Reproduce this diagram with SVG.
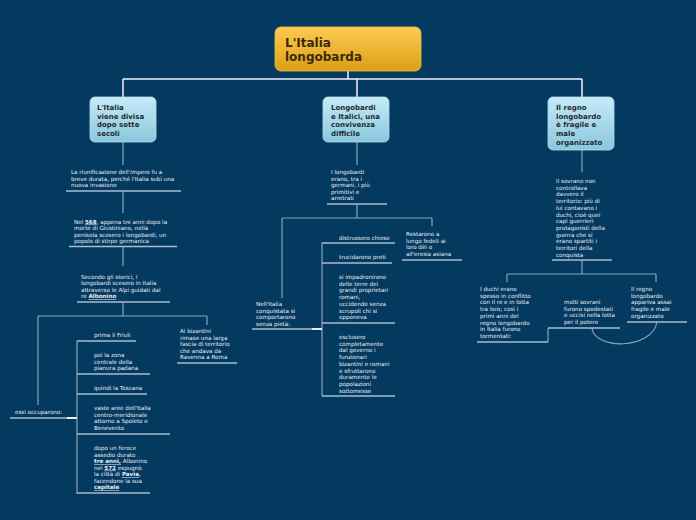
<svg xmlns="http://www.w3.org/2000/svg" width="696" height="520" viewBox="0 0 696 520">
<defs>
<linearGradient id="gOr" x1="0" y1="0" x2="0" y2="1"><stop offset="0" stop-color="#fdca52"/><stop offset="1" stop-color="#dc9f14"/></linearGradient>
<linearGradient id="gBl" x1="0" y1="0" x2="0" y2="1"><stop offset="0" stop-color="#c6eaf8"/><stop offset="1" stop-color="#8ac7dd"/></linearGradient>
<style>
.t{font-family:"DejaVu Sans",Verdana,sans-serif;font-size:5.6px;fill:#e9eef3}
.h{font-family:"DejaVu Sans",Verdana,sans-serif;font-size:7px;font-weight:bold;fill:#1e2a30}
.r{font-family:"DejaVu Sans",Verdana,sans-serif;font-size:12px;font-weight:bold;fill:#3a2a0c}
.u{font-weight:bold;text-decoration:underline}
.m{stroke:#f2f5f8;stroke-width:1.5;fill:none}
.c{stroke:#8aa3b9;stroke-width:1.2;fill:none}
.ul{stroke:#a9bccc;stroke-width:1.3;fill:none}
.j{stroke:#e6edf3;stroke-width:2;fill:none}
</style>
</defs>
<rect width="696" height="520" fill="#043a60"/>
<g id="connectors">
<path class="m" d="M348,71V79M123,79H582M123,79V97M357,79V97M582,79V97"/>
<path class="c" d="M123,142V165M123,191V213M123,246V266M123,302V316M38,316H207M38,316V405M207,316V325M77,341V494"/>
<path class="c" d="M357,142V165M357,204V218M282,218H432M282,218V298M432,218V226M322,243V396"/>
<path class="c" d="M582,150V172M582,260V274M507,274H656M507,274V282M656,274V282M548,328V342"/>
<path class="c" d="M592,328C594,350 652,350 657,322"/>
<path class="j" d="M67,418H77M312,329H322"/>
</g>
<g id="root">
<rect x="275" y="27" width="146" height="44" rx="6" fill="url(#gOr)" stroke="#f5c24a" stroke-width="0.8"/>
<text class="r" x="285" y="47">L'Italia</text>
<text class="r" x="285" y="61">longobarda</text>
</g>
<g id="n1">
<rect x="90" y="97" width="66" height="45" rx="5" fill="url(#gBl)" stroke="#b5e0f0" stroke-width="0.8"/>
<text class="h" x="97" y="110">L'Italia</text>
<text class="h" x="97" y="118.7">viene divisa</text>
<text class="h" x="97" y="127.4">dopo sette</text>
<text class="h" x="97" y="136.1">secoli</text>
</g>
<g id="n2">
<rect x="323" y="97" width="66" height="45" rx="5" fill="url(#gBl)" stroke="#b5e0f0" stroke-width="0.8"/>
<text class="h" x="331" y="110">Longobardi</text>
<text class="h" x="331" y="118.7">e Italici, una</text>
<text class="h" x="331" y="127.4">convivenza</text>
<text class="h" x="331" y="136.1">difficile</text>
</g>
<g id="n3">
<rect x="548" y="97" width="66" height="53" rx="5" fill="url(#gBl)" stroke="#b5e0f0" stroke-width="0.8"/>
<text class="h" x="556" y="110">Il regno</text>
<text class="h" x="556" y="118.7">longobardo</text>
<text class="h" x="556" y="127.4">è fragile e</text>
<text class="h" x="556" y="136.1">male</text>
<text class="h" x="556" y="144.8">organizzato</text>
</g>
<g id="t1">
<text class="t" x="71"><tspan x="71" y="174">La riunificazione dell'impero fu a</tspan><tspan x="71" y="180.7">breve durata, perché l'Italia subì una</tspan><tspan x="71" y="187.4">nuova invasione</tspan></text>
<path class="ul" d="M66,191H181"/>
</g>
<g id="t2">
<text class="t"><tspan x="74" y="223.5">Nel <tspan class="u">568</tspan>, appena tre anni dopo la</tspan><tspan x="74" y="230">morte di Giustiniano, nella</tspan><tspan x="74" y="236.5">penisola scesero i longobardi, un</tspan><tspan x="74" y="243">popolo di stirpe germanica</tspan></text>
<path class="ul" d="M69,246.5H177"/>
</g>
<g id="t3">
<text class="t"><tspan x="81" y="278.5">Secondo gli storici, i</tspan><tspan x="81" y="285">longobardi scesero in Italia</tspan><tspan x="81" y="291.5">attraverso le Alpi guidati dal</tspan><tspan x="81" y="298">re <tspan class="u">Albonino</tspan></tspan></text>
<path class="ul" d="M77,302H170"/>
</g>
<g id="t4">
<text class="t" x="15" y="414">essi occuparono:</text>
<path class="ul" d="M10,418H67"/>
</g>
<g id="t5">
<text class="t"><tspan x="180" y="333">Ai bizantini</tspan><tspan x="180" y="339.5">rimase una larga</tspan><tspan x="180" y="346">fascia di territorio</tspan><tspan x="180" y="352.5">che andava da</tspan><tspan x="180" y="359">Ravenna a Roma</tspan></text>
<path class="ul" d="M177,363H237"/>
</g>
<g id="i1">
<text class="t" x="94" y="337">prima il Friuli</text>
<path class="ul" d="M77,341H136"/>
</g>
<g id="i2">
<text class="t"><tspan x="94" y="357">poi la zona</tspan><tspan x="94" y="363.5">centrale della</tspan><tspan x="94" y="370">pianura padana</tspan></text>
<path class="ul" d="M77,374H150"/>
</g>
<g id="i3">
<text class="t" x="94" y="390">quindi la Toscana</text>
<path class="ul" d="M77,394H147"/>
</g>
<g id="i4">
<text class="t"><tspan x="94" y="410">vaste aree dell'Italia</tspan><tspan x="94" y="416.5">centro-meridionale</tspan><tspan x="94" y="423">attorno a Spoleto e</tspan><tspan x="94" y="429.5">Benevento</tspan></text>
<path class="ul" d="M77,434H170"/>
</g>
<g id="i5">
<text class="t"><tspan x="94" y="450">dopo un feroce</tspan><tspan x="94" y="456.5">assedio durato</tspan><tspan x="94" y="463"><tspan class="u">tre anni,</tspan> Albonino</tspan><tspan x="94" y="469.5">nel <tspan class="u">572</tspan> espugnò</tspan><tspan x="94" y="476">la città di <tspan class="u">Pavia</tspan>,</tspan><tspan x="94" y="482.5">facendone la sua</tspan><tspan x="94" y="489"><tspan class="u">capitale</tspan></tspan></text>
<path class="ul" d="M77,493H150"/>
</g>
<g id="m1">
<text class="t"><tspan x="331" y="174">I longobardi</tspan><tspan x="331" y="180.5">erano, tra i</tspan><tspan x="331" y="187">germani, i più</tspan><tspan x="331" y="193.5">primitivi e</tspan><tspan x="331" y="200">arretrati</tspan></text>
<path class="ul" d="M327,204H387"/>
</g>
<g id="m2">
<text class="t"><tspan x="406" y="236">Restarono a</tspan><tspan x="406" y="242.5">lungo fedeli ai</tspan><tspan x="406" y="249">loro dèi o</tspan><tspan x="406" y="255.5">all'eresia asiana</tspan></text>
<path class="ul" d="M402,260H462"/>
</g>
<g id="m3">
<text class="t"><tspan x="256" y="306">Nell'Italia</tspan><tspan x="256" y="312.5">conquistata si</tspan><tspan x="256" y="319">comportarono</tspan><tspan x="256" y="325.5">senza pietà:</tspan></text>
<path class="ul" d="M252,329H312"/>
</g>
<g id="ma">
<text class="t" x="339" y="240">distrussero chiese</text>
<path class="ul" d="M322,243H395"/>
</g>
<g id="mb">
<text class="t" x="339" y="259">trucidarono preti</text>
<path class="ul" d="M322,263H392"/>
</g>
<g id="mc">
<text class="t"><tspan x="339" y="279">si impadronirono</tspan><tspan x="339" y="285.7">delle terre dei</tspan><tspan x="339" y="292.4">grandi proprietari</tspan><tspan x="339" y="299.1">romani,</tspan><tspan x="339" y="305.8">uccidendo senza</tspan><tspan x="339" y="312.5">scrupoli chi si</tspan><tspan x="339" y="319.2">opponeva</tspan></text>
<path class="ul" d="M322,323H395"/>
</g>
<g id="md">
<text class="t"><tspan x="339" y="339">esclusero</tspan><tspan x="339" y="345.7">completamente</tspan><tspan x="339" y="352.4">dal governo i</tspan><tspan x="339" y="359.1">funzionari</tspan><tspan x="339" y="365.8">bizantini e romani</tspan><tspan x="339" y="372.5">e sfruttarono</tspan><tspan x="339" y="379.2">duramente le</tspan><tspan x="339" y="385.9">popolazioni</tspan><tspan x="339" y="392.6">sottomesse</tspan></text>
<path class="ul" d="M322,396H395"/>
</g>
<g id="r1">
<text class="t"><tspan x="556" y="183">Il sovrano non</tspan><tspan x="556" y="189.7">controllava</tspan><tspan x="556" y="196.4">davvero il</tspan><tspan x="556" y="203.1">territorio: più di</tspan><tspan x="556" y="209.8">lui contavano i</tspan><tspan x="556" y="216.5">duchi, cioè quei</tspan><tspan x="556" y="223.2">capi guerrieri</tspan><tspan x="556" y="229.9">protagonisti della</tspan><tspan x="556" y="236.6">guerra che si</tspan><tspan x="556" y="243.3">erano spartiti i</tspan><tspan x="556" y="250">territori della</tspan><tspan x="556" y="256.7">conquista</tspan></text>
<path class="ul" d="M552,260H612"/>
</g>
<g id="r2">
<text class="t"><tspan x="480" y="291">I duchi erano</tspan><tspan x="480" y="297.7">spesso in conflitto</tspan><tspan x="480" y="304.4">con il re e in lotta</tspan><tspan x="480" y="311.1">tra loro; così i</tspan><tspan x="480" y="317.8">primi anni del</tspan><tspan x="480" y="324.5">regno longobardo</tspan><tspan x="480" y="331.2">in Italia furono</tspan><tspan x="480" y="337.9">tormentati:</tspan></text>
<path class="ul" d="M477,342H548"/>
</g>
<g id="r3">
<text class="t"><tspan x="564" y="304">molti sovrani</tspan><tspan x="564" y="310.5">furono spodestati</tspan><tspan x="564" y="317">e uccisi nella lotta</tspan><tspan x="564" y="323.5">per il potere</tspan></text>
<path class="ul" d="M548,328H620"/>
</g>
<g id="r4">
<text class="t"><tspan x="631" y="291">Il regno</tspan><tspan x="631" y="297.7">longobardo</tspan><tspan x="631" y="304.4">appariva assai</tspan><tspan x="631" y="311.1">fragile e male</tspan><tspan x="631" y="317.8">organizzato</tspan></text>
<path class="ul" d="M627,322H687"/>
</g>
</svg>
